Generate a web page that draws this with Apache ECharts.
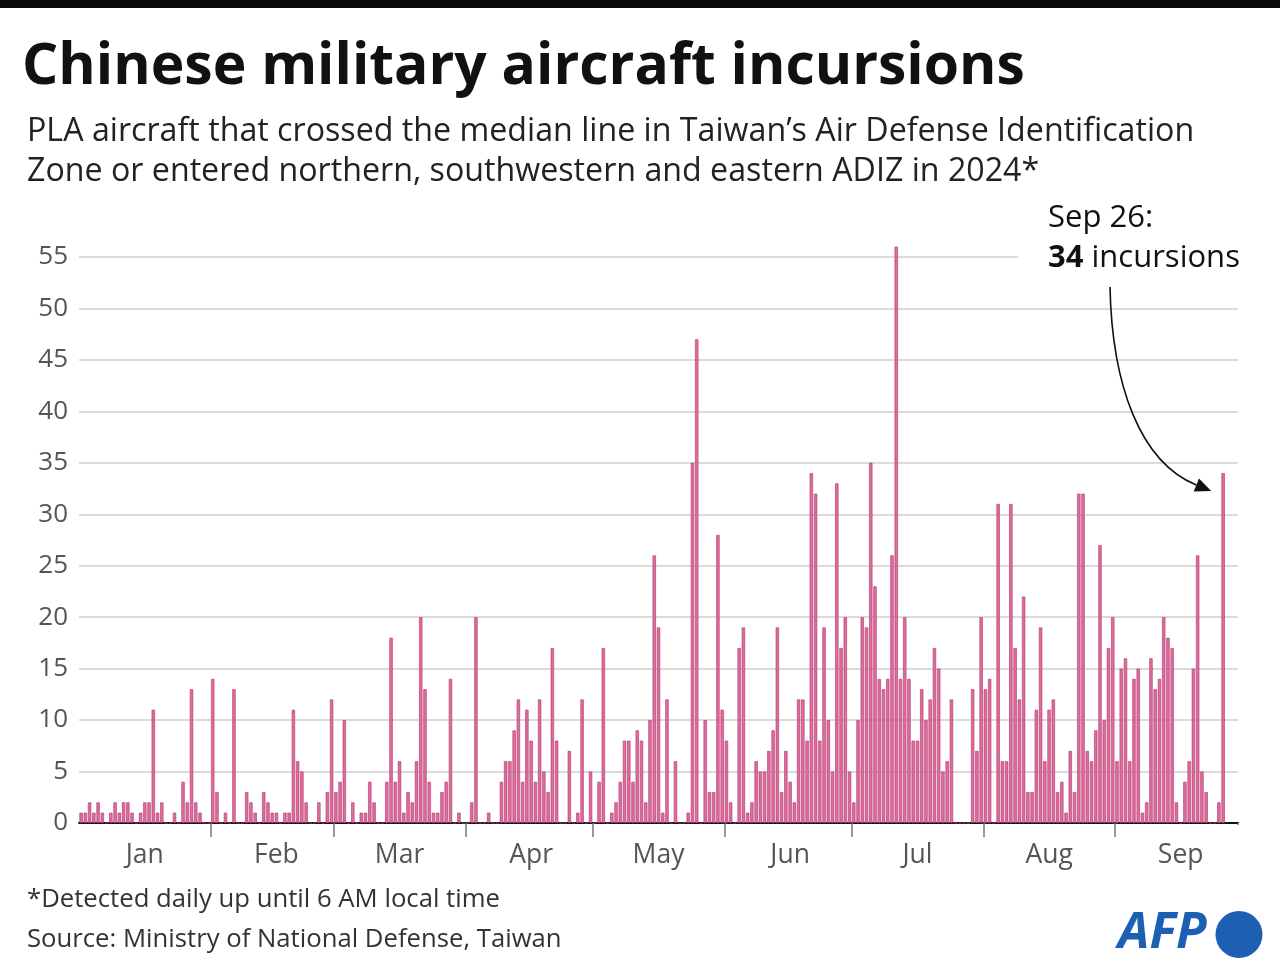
<!DOCTYPE html>
<html><head><meta charset="utf-8">
<script src="https://cdn.jsdelivr.net/npm/echarts@6/dist/echarts.min.js"></script>
<style>html,body{margin:0;padding:0;background:#fff}#c{width:1280px;height:972px}</style>
</head><body><div id="c"></div>
<script>
// ---- data (daily PLA aircraft incursions, 2024) ----
const monthNames = ['Jan','Feb','Mar','Apr','May','Jun','Jul','Aug','Sep'];
const monthDays  = [31,29,31,30,31,30,31,31,29]; // axis runs to Sep 29
const jan = [1,1,2,1,2,1,0,1,2,1,2,2,1,0,1,2,2,11,1,2,0,0,1,0,4,2,13,2,1,0,0];
const feb = [14,3,0,1,0,13,0,0,3,2,1,0,3,2,1,1,0,1,1,11,6,5,2,0,0,2,0,3,12];
const mar = [3,4,10,0,2,0,1,1,4,2,0,0,4,18,4,6,1,3,2,6,20,13,4,1,1,3,4,14,0,1,0];
const apr = [0,2,20,0,0,1,0,0,4,6,6,9,12,4,11,8,4,12,5,3,17,8,0,0,7,0,1,12,0,5];
const may = [0,4,17,0,1,2,4,8,8,4,9,8,2,10,26,19,1,12,0,6,0,0,1,35,47,0,10,3,3,28,11];
const jun = [8,2,0,17,19,1,2,6,5,5,7,9,19,3,7,4,2,12,12,8,34,32,8,19,10,5,33,17,20,5];
const jul = [2,10,20,19,35,23,14,13,14,26,56,14,20,14,8,8,13,10,12,17,15,5,6,12,0,0,0,0,13,7,20];
const aug = [13,14,0,31,6,6,31,17,12,22,3,3,11,19,6,11,12,3,4,1,7,3,32,32,7,6,9,27,10,17,20];
const sep = [6,15,16,6,14,15,1,2,16,13,14,20,18,17,2,0,4,6,15,26,5,3,0,0,2,34];
const yTickValues = [0,5,10,15,20,25,30,35,40,45,50,55];

const months = [jan,feb,mar,apr,may,jun,jul,aug,sep];
const categories = [];
const values = [];
months.forEach((arr, m) => {
  for (let d = 1; d <= monthDays[m]; d++) {
    categories.push('2024-' + String(m+1).padStart(2,'0') + '-' + String(d).padStart(2,'0'));
    values.push(d <= arr.length ? arr[d-1] : null);
  }
});
const lastIdx = jan.length+feb.length+mar.length+apr.length+may.length+jun.length+jul.length+aug.length+sep.length-1;

const FONT = '"Open Sans", "Noto Sans", sans-serif';
const chart = echarts.init(document.getElementById('c'), null, {renderer:'canvas'});
chart.setOption({
  animation:false,
  backgroundColor:'#fff',
  grid:{left:79, right:42, top:257, bottom:149, containLabel:false},
  xAxis:{
    type:'category', data:categories, boundaryGap:true,
    axisLine:{show:true, lineStyle:{color:'#111', width:2}},
    axisTick:{show:true, length:14, interval:(i,v)=>i>0 && v.endsWith('-01'), lineStyle:{color:'#777', width:1.5}},
    axisLabel:{interval:(i,v)=>v.endsWith('-16'), formatter:v=>monthNames[parseInt(v.slice(5,7),10)-1],
      fontFamily:FONT, fontSize:26.5, color:'#555', margin:19},
    splitLine:{show:false}
  },
  yAxis:{
    type:'value', min:0, max:55, interval:5,
    axisLine:{show:false}, axisTick:{show:false},
    axisLabel:{fontFamily:FONT, fontSize:26, color:'#555', margin:11,
      formatter:v=>yTickValues.includes(v)?String(v):''},
    splitLine:{lineStyle:{color:'#cfcfcf', width:1.5}}
  },
  series:[{
    type:'bar', data:values, barCategoryGap:'22%', clip:false,
    itemStyle:{color:'#e06c9b', borderColor:'#ad346b', borderWidth:0.6}
  }]
});

// annotation arrow anchored to the Sep 26 bar
const barTop = chart.convertToPixel({seriesIndex:0}, [lastIdx, values[lastIdx]]);
const T = [barTop[0]-12, barTop[1]+18];
const S = [1110, 287];
const cp1 = [1112, 385], cp2 = [1140, 462];
let dx = T[0]-cp2[0], dy = T[1]-cp2[1];
const len = Math.hypot(dx,dy); dx/=len; dy/=len;
const B = [T[0]-dx*16, T[1]-dy*16];
const px = -dy, py = dx;
const lastCenter = chart.convertToPixel({xAxisIndex:0}, categories[categories.length-1]);

chart.setOption({
  graphic:[
    {type:'rect', z:100, shape:{x:0,y:0,width:1280,height:8}, style:{fill:'#0a0a0a'}},
    {type:'rect', z:100, shape:{x:lastCenter+0.3,y:825,width:8,height:18}, style:{fill:'#fff'}},
    {type:'text', z:100, x:22, y:68, style:{text:'Chinese military aircraft incursions', fontFamily:FONT, fontWeight:'bold', fontSize:57, fill:'#111', verticalAlign:'middle'}},
    {type:'text', z:100, x:27, y:132, style:{text:'PLA aircraft that crossed the median line in Taiwan\u2019s Air Defense Identification', fontFamily:FONT, fontSize:32.2, fill:'#222', verticalAlign:'middle'}},
    {type:'text', z:100, x:27, y:172, style:{text:'Zone or entered northern, southwestern and eastern ADIZ in 2024*', fontFamily:FONT, fontSize:32.2, fill:'#222', verticalAlign:'middle'}},
    {type:'rect', z:100, shape:{x:1018,y:249,width:262,height:18}, style:{fill:'#fff'}},
    {type:'text', z:101, x:1048, y:218, style:{text:'Sep 26:', fontFamily:FONT, fontSize:31, fill:'#111', verticalAlign:'middle'}},
    {type:'text', z:101, x:1048, y:258, style:{text:'{b|34} incursions', fontFamily:FONT, fontSize:31, fill:'#111', verticalAlign:'middle',
      rich:{b:{fontFamily:FONT, fontSize:31, fontWeight:'bold', fill:'#111'}}}},
    {type:'bezierCurve', z:101, shape:{x1:S[0],y1:S[1],cpx1:cp1[0],cpy1:cp1[1],cpx2:cp2[0],cpy2:cp2[1],x2:B[0],y2:B[1]},
      style:{stroke:'#111', lineWidth:1.6, fill:null}},
    {type:'polygon', z:101, shape:{points:[T,[B[0]+px*7,B[1]+py*7],[B[0]-px*7,B[1]-py*7]]}, style:{fill:'#111'}},
    {type:'text', z:100, x:27, y:900, style:{text:'*Detected daily up until 6 AM local time', fontFamily:FONT, fontSize:25.7, fill:'#333', verticalAlign:'middle'}},
    {type:'text', z:100, x:27, y:940, style:{text:'Source: Ministry of National Defense, Taiwan', fontFamily:FONT, fontSize:25.7, fill:'#333', verticalAlign:'middle'}},
    {type:'text', z:100, x:1118, y:934, style:{text:'AFP', fontFamily:FONT, fontWeight:'bold', fontStyle:'italic', fontSize:50, fill:'#1d5fb3', verticalAlign:'middle'}},
    {type:'circle', z:100, shape:{cx:1239, cy:934.5, r:23.5}, style:{fill:'#1d5fb3'}}
  ]
});
</script>
</body></html>
